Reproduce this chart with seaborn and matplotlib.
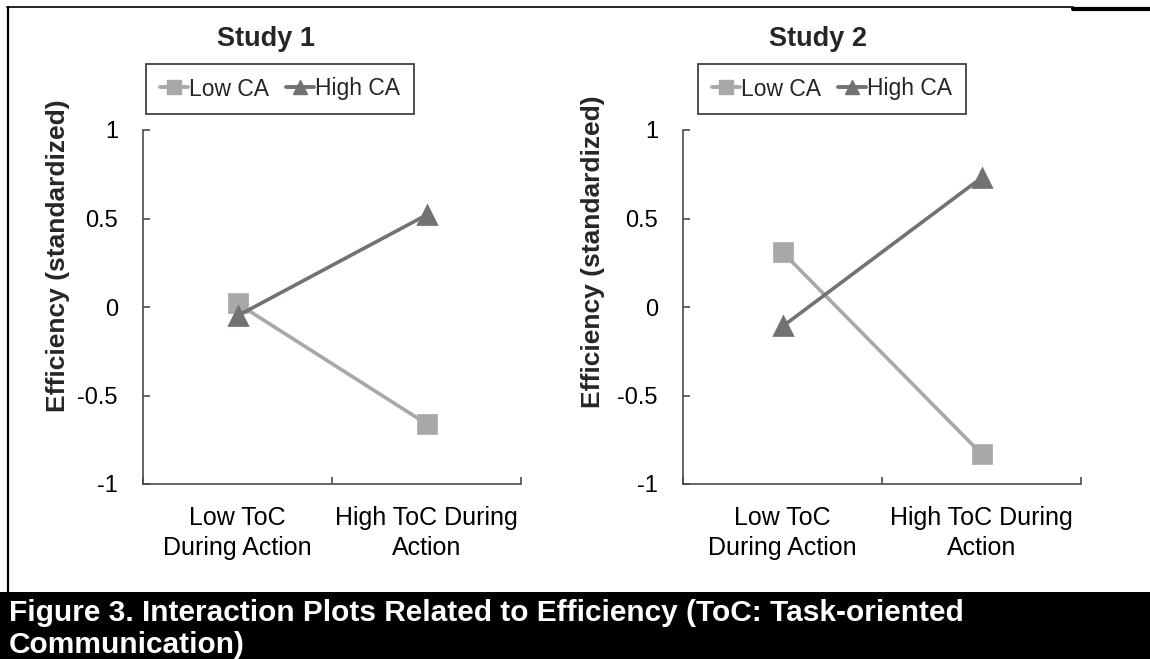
import pandas as pd
import numpy as np
import matplotlib
matplotlib.use("Agg")
import matplotlib.pyplot as plt
from matplotlib.lines import Line2D
from matplotlib.patches import Rectangle
import seaborn as sns

# values
toc_levels = ["Low ToC\nDuring Action", "High ToC During\nAction"]
ca_groups = ["Low CA", "High CA"]
study1_low_ca = [0.02, -0.66]
study1_high_ca = [-0.05, 0.52]
study2_low_ca = [0.31, -0.83]
study2_high_ca = [-0.11, 0.73]
study_titles = ["Study 1", "Study 2"]
y_ticks = [-1, -0.5, 0, 0.5, 1]
caption = "Figure 3. Interaction Plots Related to Efficiency (ToC: Task-oriented\nCommunication)"

colors = {"Low CA": "#aaa7a7", "High CA": "#767171"}
markers = {"Low CA": "s", "High CA": "^"}

sns.set_theme(style="white")
plt.rcParams["font.family"] = ["Liberation Sans", "DejaVu Sans"]


def make_frame(low, high):
    rows = []
    for lvl, v in zip(toc_levels, low):
        rows.append({"toc": lvl, "ca": "Low CA", "eff": v})
    for lvl, v in zip(toc_levels, high):
        rows.append({"toc": lvl, "ca": "High CA", "eff": v})
    return pd.DataFrame(rows)


W, H = 1150, 659
fig = plt.figure(figsize=(W / 100, H / 100), dpi=100)

# axes boxes in pixels: (left, right) with y from 130 (top) to 484 (bottom)
panels = [
    dict(x0=143, x1=521, low=study1_low_ca, high=study1_high_ca,
         title_x=266, leg_x=280, lab_x=-0.225, lab_y=0.645),
    dict(x0=683, x1=1081, low=study2_low_ca, high=study2_high_ca,
         title_x=818, leg_x=832, lab_x=-0.226, lab_y=0.655),
]
top, bottom = 130, 484
axis_col = "#4a4a4a"

for i, p in enumerate(panels):
    ax = fig.add_axes([p["x0"] / W, 1 - bottom / H, (p["x1"] - p["x0"]) / W, (bottom - top) / H])
    df = make_frame(p["low"], p["high"])
    for ca in ca_groups:
        sub = df[df["ca"] == ca]
        sns.pointplot(data=sub, x="toc", y="eff", order=toc_levels, color=colors[ca],
                      marker=markers[ca], errorbar=None, ax=ax,
                      markersize=12.5 if ca == "Low CA" else 13.5, linewidth=2.6)
    ax.set_xlim(-0.5, 1.5)
    ax.set_ylim(-1, 1)
    ax.set_yticks(y_ticks)
    ax.set_yticklabels(["-1", "-0.5", "0", "0.5", "1"])
    ax.set_xticks([0, 1])
    ax.set_xticklabels(toc_levels)
    ax.set_xticks([-0.5, 0.5, 1.5], minor=True)
    ax.tick_params(axis="x", which="major", length=0, pad=16, labelsize=18, colors="black")
    ax.tick_params(axis="x", which="minor", direction="in", length=5, width=1.2,
                   color=axis_col, bottom=True)
    ax.tick_params(axis="y", direction="in", length=5, width=1.2, color=axis_col,
                   pad=18, labelsize=17, left=True, labelcolor="black")
    for lab in ax.get_xticklabels():
        lab.set_linespacing(1.3)
    for s in ["top", "right"]:
        ax.spines[s].set_visible(False)
    for s in ["left", "bottom"]:
        ax.spines[s].set_color(axis_col)
        ax.spines[s].set_linewidth(1.2)
    ax.set_xlabel("")
    ax.set_ylabel("Efficiency (standardized)", fontsize=19, fontweight="bold", va="center")
    ax.yaxis.set_label_coords(p["lab_x"], p["lab_y"])

    fig.text(p["title_x"] / W, 1 - 39 / H, study_titles[i], ha="center", va="center",
             fontsize=19.5, fontweight="bold")

    handles = [Line2D([], [], color=colors[ca], marker=markers[ca], markersize=9.5,
                      linewidth=2.8) for ca in ca_groups]
    leg = ax.legend(handles, ca_groups, loc="center", ncol=2,
                    bbox_to_anchor=(p["leg_x"] / W, 1 - 89 / H), bbox_transform=fig.transFigure,
                    fontsize=16.5, frameon=True, fancybox=False, handlelength=1.25,
                    handletextpad=0.05, columnspacing=0.7, borderpad=0.6, borderaxespad=0)
    leg.get_frame().set_edgecolor("black")
    leg.get_frame().set_linewidth(1.2)

# outer frame lines and caption bar
fig.add_artist(Line2D([8 / W, 8 / W], [1 - 7 / H, 1 - 592 / H], color="black", lw=1.6,
                      transform=fig.transFigure))
fig.add_artist(Line2D([7 / W, 1073 / W], [1 - 7 / H, 1 - 7 / H], color="black", lw=1.2,
                      transform=fig.transFigure))
fig.add_artist(Line2D([1073 / W, 1], [1 - 9 / H, 1 - 9 / H], color="black", lw=3,
                      transform=fig.transFigure))
fig.add_artist(Rectangle((0, 0), 1, 67 / H, facecolor="black", edgecolor="none",
                         transform=fig.transFigure))
fig.text(9 / W, 1 - 599 / H, caption, ha="left", va="top", color="white",
         fontsize=21.5, fontweight="bold", linespacing=1.2)

fig.savefig("out.png", dpi=100)
